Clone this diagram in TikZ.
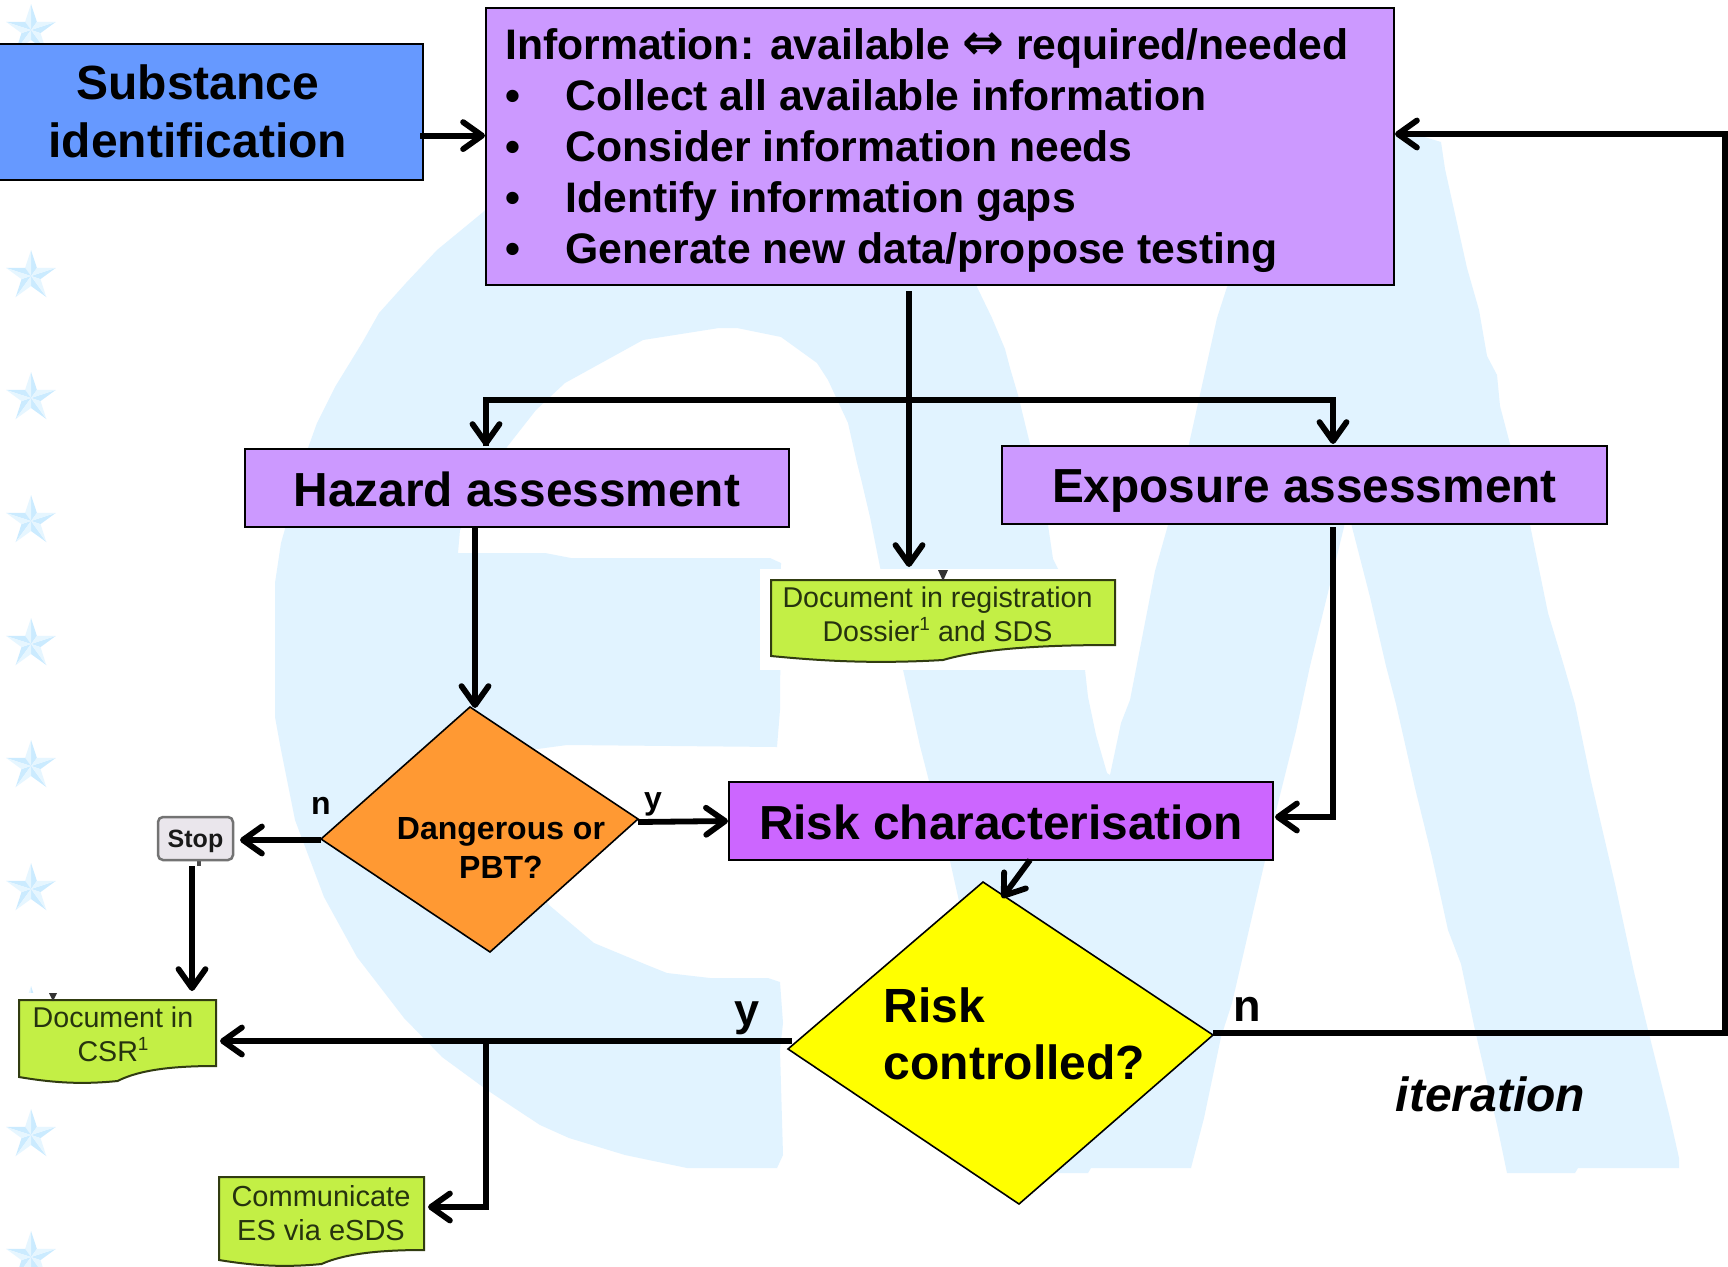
\documentclass[tikz,border=0pt]{standalone}
\usepackage{fontspec}
\setmainfont{Liberation Sans}
\newfontfamily\symfont{DejaVu Sans}
\usetikzlibrary{arrows.meta}
\definecolor{wmark}{HTML}{E1F3FF}
\definecolor{stard}{HTML}{CBEBFF}
\definecolor{starl}{HTML}{E6F6FF}
\definecolor{purp}{HTML}{CC99FF}
\definecolor{purpd}{HTML}{CC66FF}
\definecolor{blu}{HTML}{6699FF}
\definecolor{orng}{HTML}{FF9933}
\definecolor{yell}{HTML}{FFFF00}
\definecolor{lime}{HTML}{C3EF45}
\definecolor{doctext}{HTML}{26330F}
\definecolor{stopfill}{HTML}{EAE6EC}
\newcommand{\fs}[1]{\fontsize{#1}{#1}\selectfont}
\newcommand{\onesup}{\raisebox{11pt}{\fontsize{19}{19}\selectfont 1}}
% x1 x2 ytop yleftbottom yrightbottom
\newcommand{\docshape}[5]{%
  \pgfmathsetmacro{\dw}{#2-#1}
  \filldraw[docline] (#1,#3) -- (#2,#3) -- (#2,#5)
   .. controls ({#2-0.2*\dw},#5) and ({#1+0.62*\dw},{#5+3}) .. ({#1+0.5*\dw},{#4+4})
   .. controls ({#1+0.3*\dw},{#4+8}) and ({#1+0.15*\dw},{#4+5}) .. (#1,#4) -- cycle;}
\tikzset{
  x=1pt,y=-1pt,
  boxnode/.style={draw=black,line width=2pt,anchor=north west,inner sep=0pt,font=\bfseries\fs{47.8},text=black},
  infoline/.style={anchor=base west,inner sep=0pt,font=\bfseries\fs{42.7}},
  lab/.style={anchor=base,inner sep=0pt,font=\bfseries},
  doctxt/.style={inner sep=0pt,align=center,text=doctext,font=\fontsize{28.6}{34}\selectfont},
  docline/.style={draw=black!75!lime,line width=2pt,fill=lime},
  diam/.style={draw=black,line width=1.6pt,line join=miter},
  conn/.style={line width=5.8pt,draw=black,-{Straight Barb[length=19pt,width=27pt,round]}},
}
\begin{document}
\begin{tikzpicture}
\useasboundingbox (0,0) rectangle (1728,1266);
\fill[white] (0,0) rectangle (1728,1266);
% watermark
\fill[wmark] (500,195) -- (482,213) -- (437,250) -- (406,283) -- (379,313) -- (362,343) -- (335,387) -- (317,423) -- (308,448) -- (281,543) -- (275,583) -- (275,717) -- (281,750) -- (295,820) -- (324,897) -- (357,957) -- (404,1018) -- (442,1057) -- (487,1090) -- (540,1125) -- (569,1138) -- (625,1155) -- (687,1168) -- (777,1168) -- (783,1155) -- (780,1050) -- (783,1023) -- (780,982) -- (768,978) -- (710,978) -- (667,973) -- (647,965) -- (594,943) -- (549,905) -- (535,880) -- (530,750) -- (567,745) -- (777,747) -- (780,710) -- (781,563) -- (770,558) -- (571,558) -- (545,553) -- (458,553) -- (460,530) -- (507,447) -- (536,410) -- (565,383) -- (594,367) -- (643,340) -- (719,328) -- (737,328) -- (781,337) -- (817,363) -- (828,380) -- (848,423) -- (857,463) -- (862,483) -- (870,517) -- (880,567) -- (906,683) -- (920,746) -- (929,781) -- (950,861) -- (1020,1173) -- (1088,1173) -- (1091,1168) -- (1191,1168) -- (1204,1118) -- (1221,1037) -- (1232,1003) -- (1264,865) -- (1275,815) -- (1296,731) -- (1310,666) -- (1344,527) -- (1348,505) -- (1352,527) -- (1370,597) -- (1386,666) -- (1396,704) -- (1415,788) -- (1432,857) -- (1448,930) -- (1461,964) -- (1475,1030) -- (1497,1125) -- (1507,1173) -- (1575,1173) -- (1578,1168) -- (1679,1168) -- (1679,1158) -- (1670,1118) -- (1648,1030) -- (1634,972) -- (1615,884) -- (1591,781) -- (1575,704) -- (1564,666) -- (1548,613) -- (1530,525) -- (1510,444) -- (1500,406) -- (1497,375) -- (1487,356) -- (1479,310) -- (1467,268) -- (1445,169) -- (1441,142) -- (1421,136) -- (1350,125) -- (1300,200) -- (1227,287) -- (1217,318) -- (1189,444) -- (1168,525) -- (1155,571) -- (1130,700) -- (1121,723) -- (1110,775) -- (1107,773) -- (1096,735) -- (1088,697) -- (1085,670) -- (1058,569) -- (1053,559) -- (1048,525) -- (1030,444) -- (1018,395) -- (1010,368) -- (1005,349) -- (992,318) -- (977,287) -- (970,200) -- cycle;
% stars
\foreach \yy in {30,153,276,398,521,644,766,889,1012,1135,1257}{
 \begin{scope}[shift={(31,\yy)}]
  \foreach \k in {0,...,4}{
    \pgfmathsetmacro{\tip}{-90+72*\k}
    \fill[stard] (0,0) -- (\tip:26) -- ({\tip+36}:10) -- cycle;
    \fill[starl] (0,0) -- (\tip:26) -- ({\tip-36}:10) -- cycle;
  }
 \end{scope}
}
% white picture grounds behind the pasted documents
\fill[white] (760,569) rectangle (1123,670);
\fill[white] (0,993) rectangle (219,1090);
\fill[white] (218,1150) rectangle (424,1266);
\fill[white] (150,810) rectangle (240,868);
% documents
\docshape{771}{1115}{580}{656}{645}
\docshape{19}{216}{1000}{1077}{1066}
\docshape{219}{424}{1177}{1260}{1250}
\fill[black!80] (938,570) -- (948,570) -- (943,581) -- cycle;
\fill[black!80] (49,993) -- (57,993) -- (53,1001) -- cycle;
\fill[black!70] (197,860) rectangle (201,866);
\node[doctxt] (docreg) at (937.5,614.5) {Document in registration\\Dossier\onesup\ and SDS};
\node[doctxt] (doccsr) at (113,1034.5) {Document in\\CSR\onesup};
\node[doctxt,font=\fontsize{29}{34}\selectfont] (doccom) at (321,1213.5) {Communicate\\ES via eSDS};
% stop
\node[draw=black!55,line width=2.5pt,rounded corners=5pt,fill=stopfill,minimum width=75pt,minimum height=43pt,inner sep=0pt,text=black!90,font=\bfseries\fs{25},text height=17pt,text depth=0pt] (stopn) at (195.5,838.5) {Stop};
% boxes
\node[boxnode,fill=blu,minimum width=450pt,minimum height=136pt,align=center,font=\bfseries\fontsize{48}{58}\selectfont] (subst) at (-28.1,42.6) {Substance\\identification};
\node[boxnode,fill=purp,minimum width=908pt,minimum height=277.5pt] (info) at (484.9,6.5) {};
\node[infoline] (i1) at (505,59.5) {Information: available {\symfont\fs{50}⇔} required/needed};
\node[infoline] (i2) at (505,110.5) {\makebox[60.5pt][l]{•}Collect all available information};
\node[infoline] (i3) at (505,161.5) {\makebox[60.5pt][l]{•}Consider information needs};
\node[infoline] (i4) at (505,212.5) {\makebox[60.5pt][l]{•}Identify information gaps};
\node[infoline] (i5) at (505,263.5) {\makebox[60.5pt][l]{•}Generate new data/propose testing};
\node[boxnode,fill=purp,minimum width=544pt,minimum height=78pt,text height=36pt,text depth=0pt] (haz) at (243.9,448) {Hazard assessment};
\node[boxnode,fill=purp,minimum width=605pt,minimum height=78pt,text height=34.8pt,text depth=0pt] (expo) at (1000.9,444.6) {Exposure assessment};
\node[boxnode,fill=purpd,minimum width=544pt,minimum height=78pt,text height=36pt,text depth=0pt] (risk) at (727.9,781) {Risk characterisation};
% diamonds
\coordinate (ot) at (470,707); \coordinate (or) at (638,819); \coordinate (ob) at (490,952); \coordinate (ol) at (321,839);
\coordinate (yt) at (983,882); \coordinate (yr) at (1213,1035); \coordinate (yb) at (1019,1204); \coordinate (yl) at (788,1049);
\filldraw[diam,fill=orng] (ot) -- (or) -- (ob) -- (ol) -- cycle;
\filldraw[diam,fill=yell] (yt) -- (yr) -- (yb) -- (yl) -- cycle;
\node[inner sep=0pt,align=center,font=\bfseries\fontsize{32}{39}\selectfont] (danger) at (501,848) {Dangerous or\\PBT?};
\node[inner sep=0pt,align=left,anchor=west,font=\bfseries\fontsize{48}{57}\selectfont] (riskq) at (883.5,1034) {Risk\\controlled?};
% labels
\node[lab,font=\bfseries\fs{32}] (ln1) at (321,814) {n};
\node[lab,font=\bfseries\fs{32}] (ly1) at (653,809) {y};
\node[lab,font=\bfseries\fs{45}] (ly2) at (747,1025) {y};
\node[lab,font=\bfseries\fs{45}] (ln2) at (1247,1021) {n};
\node[lab,font=\bfseries\itshape\fs{48}] (iter) at (1490.5,1111) {iteration};
% connector end points
\coordinate (a1) at (420,135.6); \coordinate (a2) at (485,135.6);
\coordinate (t1) at (909,291); \coordinate (t2) at (909,567);
\coordinate (hl) at (486,400); \coordinate (hr) at (1333,400);
\coordinate (hl2) at (486,446); \coordinate (hr2) at (1333,444);
\coordinate (h1) at (475,527); \coordinate (h2) at (475,708);
\coordinate (e1) at (1333,527); \coordinate (e2) at (1333,817); \coordinate (e3) at (1275,817);
\coordinate (o1) at (638,822); \coordinate (o2) at (728,821);
\coordinate (o3) at (321,840); \coordinate (o4) at (240,840);
\coordinate (s1) at (192,866); \coordinate (s2) at (192,991);
\coordinate (r1) at (1030,860); \coordinate (r2) at (1002,898);
\coordinate (n1) at (1213,1033); \coordinate (n2) at (1725,1033); \coordinate (n3) at (1725,134); \coordinate (n4) at (1395,134);
\coordinate (y1) at (791.5,1041); \coordinate (y2) at (220,1041);
\coordinate (b1) at (486,1041); \coordinate (b2) at (486,1207); \coordinate (b3) at (428,1207);
% connectors
\draw[conn] (a1) -- (a2);
\draw[conn] (t1) -- (t2);
\draw[conn,line join=miter] (hl2) -- (hl) -- (hr) -- (hr2);
\path[conn,draw=none] (hr) -- (hl);
\draw[-{Straight Barb[length=19pt,width=27pt,round]},line width=5.8pt] (hl) -- (hl2);
\draw[conn] (h1) -- (h2);
\draw[conn,line join=miter] (e1) -- (e2) -- (e3);
\draw[conn] (o1) -- (o2);
\draw[conn] (o3) -- (o4);
\draw[conn] (s1) -- (s2);
\draw[conn] (r1) -- (r2);
\draw[conn,line join=miter] (n1) -- (n2) -- (n3) -- (n4);
\draw[conn] (y1) -- (y2);
\draw[conn,line join=miter] (b1) -- (b2) -- (b3);
\end{tikzpicture}
\end{document}
